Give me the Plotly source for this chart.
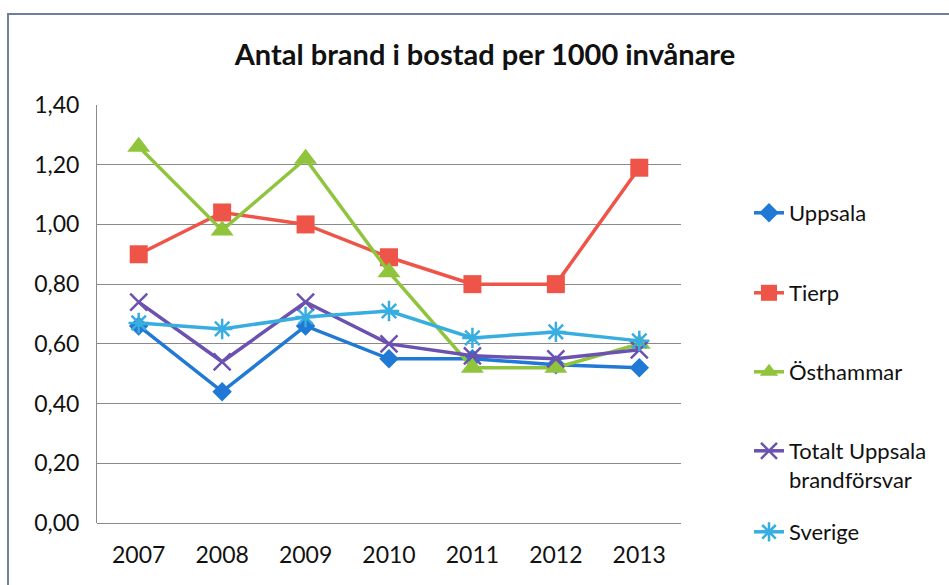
import plotly.graph_objects as go

# Antal brand i bostad per 1000 invånare, 2007–2013
years = ["2007", "2008", "2009", "2010", "2011", "2012", "2013"]
uppsala = [0.66, 0.44, 0.66, 0.55, 0.55, 0.53, 0.52]
tierp = [0.90, 1.04, 1.00, 0.89, 0.80, 0.80, 1.19]
osthammar = [1.26, 0.98, 1.22, 0.84, 0.52, 0.52, 0.60]
totalt = [0.74, 0.54, 0.74, 0.60, 0.56, 0.55, 0.58]
sverige = [0.67, 0.65, 0.69, 0.71, 0.62, 0.64, 0.61]

y_ticks = [0.0, 0.2, 0.4, 0.6, 0.8, 1.0, 1.2, 1.4]

FONT = "Lato"

series = [
    ("Uppsala", uppsala, "#2079d4", dict(symbol="diamond", size=15)),
    ("Tierp", tierp, "#ee5448", dict(symbol="square", size=18)),
    ("Östhammar", osthammar, "#8fc43c", dict(symbol="triangle-up", size=20)),
    ("Totalt Uppsala<br>brandförsvar", totalt, "#6b52b0",
     dict(symbol="x-thin-open", size=17, line=dict(width=2.5, color="#7a62c4"))),
    ("Sverige", sverige, "#38ade0",
     dict(symbol="asterisk-open", size=17, line=dict(width=2.5, color="#38ade0"))),
]

legend_names = ["legend", "legend2", "legend3", "legend4", "legend5"]
legend_tops = [192, 272, 351, 430, 511]  # pixel rows of each legend entry

fig = go.Figure()
for (name, vals, color, marker), lg in zip(series, legend_names):
    m = dict(color=color, **marker)
    fig.add_trace(go.Scatter(
        x=years, y=vals, name=name, mode="lines+markers",
        line=dict(color=color, width=3.5),
        marker=m, legend=lg,
    ))

plot_left, plot_right = 97, 681
plot_top, plot_bottom = 105, 523
plot_w = plot_right - plot_left
plot_h = plot_bottom - plot_top
legend_x = (749 - plot_left) / plot_w

layout_legends = {}
for lg, top in zip(legend_names, legend_tops):
    layout_legends[lg] = dict(
        x=legend_x, xanchor="left",
        y=(plot_bottom - top) / plot_h, yanchor="top",
        font=dict(family=FONT, size=22, color="#111111"),
        bgcolor="rgba(0,0,0,0)", valign="top",
    )

fig.update_layout(
    width=949, height=585,
    margin=dict(l=plot_left, r=949 - plot_right, t=plot_top, b=585 - plot_bottom),
    paper_bgcolor="white", plot_bgcolor="white",
    separators=", ",
    showlegend=True,
    title=dict(
        text="<b>Antal brand i bostad per 1000 invånare</b>",
        x=(485 - plot_left) / plot_w, xanchor="center", xref="paper",
        y=1 - 55 / 585, yanchor="middle", yref="container",
        font=dict(family=FONT, size=29, color="#111111"),
    ),
    xaxis=dict(
        type="category", range=[-0.5, 6.5],
        showgrid=False, showline=False, zeroline=False,
        ticks="", tickfont=dict(family=FONT, size=23, color="#111111"),
        ticklabelstandoff=16,
    ),
    yaxis=dict(
        range=[0, 1.4], tickvals=y_ticks, tickformat=".2f",
        showgrid=True, gridcolor="#8a8a8a", gridwidth=1,
        showline=True, linecolor="#8a8a8a", linewidth=1,
        zeroline=True, zerolinecolor="#8a8a8a", zerolinewidth=1,
        ticks="", tickfont=dict(family=FONT, size=23, color="#111111"),
        ticklabelstandoff=12,
    ),
    shapes=[dict(
        type="rect", xref="paper", yref="paper", layer="below",
        x0=(8 - plot_left) / plot_w, x1=2.0,
        y0=-1.0, y1=(plot_bottom - 14) / plot_h,
        line=dict(color="#6f7f98", width=2), fillcolor="rgba(0,0,0,0)",
    )],
    **layout_legends,
)

fig.write_html("out.html")
